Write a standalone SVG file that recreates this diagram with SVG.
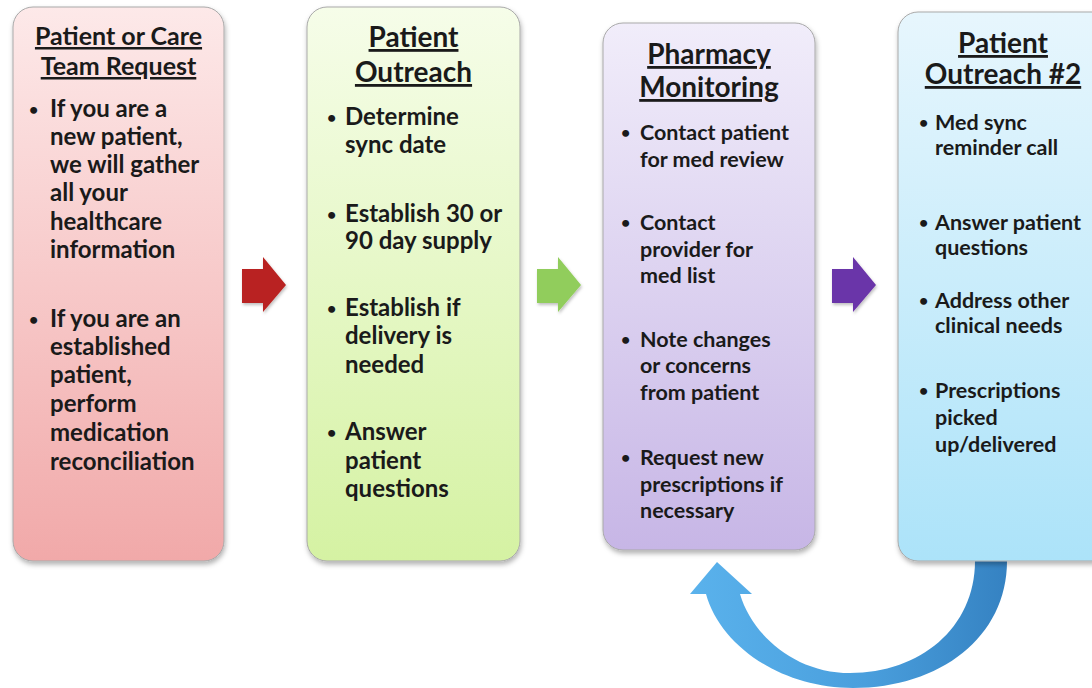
<svg xmlns="http://www.w3.org/2000/svg" width="1092" height="688" viewBox="0 0 1092 688">
<defs>
<linearGradient id="gRed" x1="0" y1="0" x2="0" y2="1"><stop offset="0" stop-color="#fde9e9"/><stop offset="1" stop-color="#f1a9a9"/></linearGradient>
<linearGradient id="gGreen" x1="0" y1="0" x2="0" y2="1"><stop offset="0" stop-color="#f6fde9"/><stop offset="1" stop-color="#d5f2a3"/></linearGradient>
<linearGradient id="gPurple" x1="0" y1="0" x2="0" y2="1"><stop offset="0" stop-color="#f1edfa"/><stop offset="1" stop-color="#c7b6e6"/></linearGradient>
<linearGradient id="gBlue" x1="0" y1="0" x2="0" y2="1"><stop offset="0" stop-color="#e7f6fd"/><stop offset="1" stop-color="#ace3f9"/></linearGradient>
<linearGradient id="gLoop" x1="0" y1="0" x2="1" y2="0"><stop offset="0" stop-color="#5ab2ec"/><stop offset="0.55" stop-color="#4a9fdd"/><stop offset="1" stop-color="#3582c2"/></linearGradient>
<filter id="sh" x="-10%" y="-10%" width="120%" height="120%"><feDropShadow dx="1" dy="3" stdDeviation="2.5" flood-color="#000" flood-opacity="0.3"/></filter>
<filter id="ash" x="-20%" y="-20%" width="140%" height="140%"><feDropShadow dx="1" dy="2" stdDeviation="1.5" flood-color="#000" flood-opacity="0.25"/></filter>
<style>
.box{stroke:#a9a9a9;stroke-width:1;filter:url(#sh)}
.t{font-family:Lato,"Liberation Sans",sans-serif;font-weight:bold;fill:#1a1a1a}
.ti{text-anchor:middle;text-decoration:underline}
.s1{font-size:25px}
.s2{font-size:28px}
.b1{font-size:24px}
.b3{font-size:21.5px}
.bu{font-size:16px}
</style>
</defs>

<g id="connectors">
<path id="arrow1" d="M242 269 H263 V257 L286 285 L263 312 V303 H242 Z" fill="#b92420" filter="url(#ash)"/>
<path id="arrow2" d="M537 269 H558 V257 L581 285 L558 312 V303 H537 Z" fill="#91cd5b" filter="url(#ash)"/>
<path id="arrow3" d="M832 269 H853 V257 L876 285 L853 312 V303 H832 Z" fill="#6b34a9" filter="url(#ash)"/>
<path id="loop" d="M975 561 L1007 561 C1007 637 940 688 853 688 C780 688 720 645 706 594 L690 594 L717 562 L752 594 L740 594 C752 635 795 673 850 673 C920 673 975 628 975 561 Z" fill="url(#gLoop)"/>
</g>

<g id="node1">
<rect class="box" x="13" y="7" width="211" height="554" rx="20" fill="url(#gRed)"/>
<text class="t ti s1" x="118.5" y="45">Patient or Care</text>
<text class="t ti s1" x="118.5" y="75">Team Request</text>
<text class="t bu" x="29" y="115">•</text>
<text class="t b1"><tspan x="50" y="117">If you are a</tspan><tspan x="50" y="145">new patient,</tspan><tspan x="50" y="173">we will gather</tspan><tspan x="50" y="201">all your</tspan><tspan x="50" y="230">healthcare</tspan><tspan x="50" y="258">information</tspan></text>
<text class="t bu" x="29" y="325">•</text>
<text class="t b1"><tspan x="50" y="327">If you are an</tspan><tspan x="50" y="355">established</tspan><tspan x="50" y="383">patient,</tspan><tspan x="50" y="412">perform</tspan><tspan x="50" y="441">medication</tspan><tspan x="50" y="470">reconciliation</tspan></text>
</g>

<g id="node2">
<rect class="box" x="307" y="7" width="213" height="554" rx="20" fill="url(#gGreen)"/>
<text class="t ti s2" x="413.5" y="47">Patient</text>
<text class="t ti s2" x="413.5" y="82">Outreach</text>
<text class="t bu" x="327" y="123">•</text>
<text class="t b1"><tspan x="345" y="125">Determine</tspan><tspan x="345" y="153">sync date</tspan></text>
<text class="t bu" x="327" y="220">•</text>
<text class="t b1"><tspan x="345" y="222">Establish 30 or</tspan><tspan x="345" y="249">90 day supply</tspan></text>
<text class="t bu" x="327" y="314">•</text>
<text class="t b1"><tspan x="345" y="316">Establish if</tspan><tspan x="345" y="344">delivery is</tspan><tspan x="345" y="373">needed</tspan></text>
<text class="t bu" x="327" y="438">•</text>
<text class="t b1"><tspan x="345" y="440">Answer</tspan><tspan x="345" y="469">patient</tspan><tspan x="345" y="497">questions</tspan></text>
</g>

<g id="node3">
<rect class="box" x="603" y="23" width="212" height="527" rx="20" fill="url(#gPurple)"/>
<text class="t ti s2" x="709" y="64">Pharmacy</text>
<text class="t ti s2" x="709" y="97">Monitoring</text>
<text class="t bu" x="621" y="138">•</text>
<text class="t b3"><tspan x="640" y="140">Contact patient</tspan><tspan x="640" y="167">for med review</tspan></text>
<text class="t bu" x="621" y="228">•</text>
<text class="t b3"><tspan x="640" y="230">Contact</tspan><tspan x="640" y="257">provider for</tspan><tspan x="640" y="283">med list</tspan></text>
<text class="t bu" x="621" y="345">•</text>
<text class="t b3"><tspan x="640" y="347">Note changes</tspan><tspan x="640" y="373">or concerns</tspan><tspan x="640" y="400">from patient</tspan></text>
<text class="t bu" x="621" y="463">•</text>
<text class="t b3"><tspan x="640" y="465">Request new</tspan><tspan x="640" y="492">prescriptions  if</tspan><tspan x="640" y="518">necessary</tspan></text>
</g>

<g id="node4">
<rect class="box" x="898" y="12" width="214" height="549" rx="20" fill="url(#gBlue)"/>
<text class="t ti s2" x="1003" y="53">Patient</text>
<text class="t ti s2" x="1003" y="84">Outreach #2</text>
<text class="t bu" x="919" y="128">•</text>
<text class="t b3"><tspan x="935" y="130">Med sync</tspan><tspan x="935" y="155">reminder call</tspan></text>
<text class="t bu" x="919" y="228">•</text>
<text class="t b3"><tspan x="935" y="230">Answer patient</tspan><tspan x="935" y="255">questions</tspan></text>
<text class="t bu" x="919" y="306">•</text>
<text class="t b3"><tspan x="935" y="308">Address other</tspan><tspan x="935" y="333">clinical needs</tspan></text>
<text class="t bu" x="919" y="396">•</text>
<text class="t b3"><tspan x="935" y="398">Prescriptions</tspan><tspan x="935" y="425">picked</tspan><tspan x="935" y="452">up/delivered</tspan></text>
</g>
</svg>
